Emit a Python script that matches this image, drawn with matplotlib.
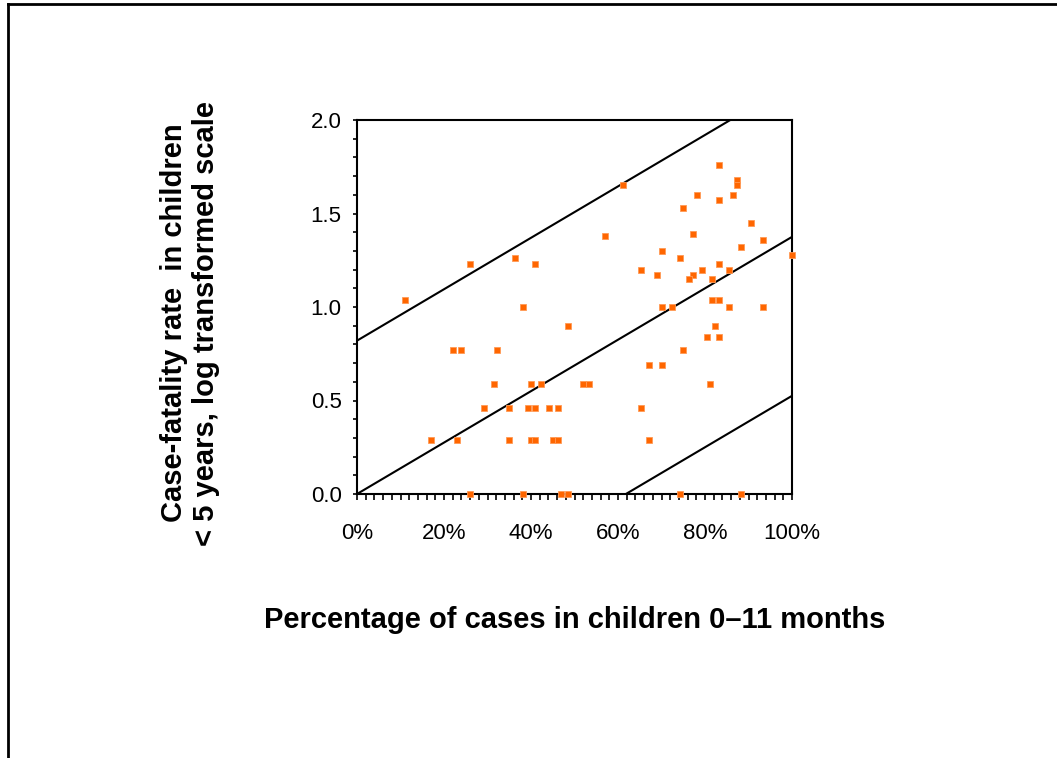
import matplotlib
matplotlib.use("Agg")
import matplotlib.pyplot as plt
from matplotlib.lines import Line2D
from matplotlib.ticker import MultipleLocator, FuncFormatter
import numpy as np

plt.rcParams['font.family'] = ['Liberation Sans', 'DejaVu Sans']

# percentage of cases in children 0-11 months
pct_infants = [11.0, 26.0, 36.3, 40.9, 38.1,
               83.3, 87.4, 87.4, 61.2, 78.2, 86.5, 83.3, 75.0, 90.6, 57.1,
               77.3, 93.4, 88.3, 70.0, 100.0, 74.3, 83.3, 65.4, 85.6, 69.0,
               77.3, 79.4, 76.4, 81.5, 81.5, 83.3, 70.0, 72.3, 85.6, 93.4,
               82.4, 80.5, 83.3, 75.0, 67.2, 70.0, 52.0, 53.4, 81.1, 65.4,
               67.2, 74.3, 88.3,
               48.4, 22.1, 24.0, 32.1, 31.4, 40.1, 42.4,
               29.1, 35.0, 39.2, 41.0, 44.2, 46.1,
               17.1, 23.1, 35.0, 40.1, 41.0, 45.1, 46.1,
               26.0, 38.1, 47.0, 48.4]
# case-fatality rate (log transformed)
cfr_log = [1.04, 1.23, 1.26, 1.23, 1.00,
           1.76, 1.68, 1.65, 1.65, 1.60, 1.60, 1.57, 1.53, 1.45, 1.38,
           1.39, 1.36, 1.32, 1.30, 1.28, 1.26, 1.23, 1.20, 1.20, 1.17,
           1.17, 1.20, 1.15, 1.15, 1.04, 1.04, 1.00, 1.00, 1.00, 1.00,
           0.90, 0.84, 0.84, 0.77, 0.69, 0.69, 0.59, 0.59, 0.59, 0.46,
           0.29, 0.00, 0.00,
           0.90, 0.77, 0.77, 0.77, 0.59, 0.59, 0.59,
           0.46, 0.46, 0.46, 0.46, 0.46, 0.46,
           0.29, 0.29, 0.29, 0.29, 0.29, 0.29, 0.29,
           0.00, 0.00, 0.00, 0.00]

# regression line and bands: intercepts and common slope (per 100%)
slope = 1.375
intercepts = [0.0, 0.82, -0.85]

fig = plt.figure(figsize=(10.57, 7.58), dpi=100)
ax = fig.add_axes([357/1057, 1-494/758, 435/1057, 374/758])

xx = np.linspace(0, 100, 200)
for b in intercepts:
    ax.plot(xx, b + slope * xx / 100, color='black', lw=1.5, zorder=2)

ax.plot(np.array(pct_infants), cfr_log, linestyle='none', marker='s', ms=4.5,
        color='#ff6600', mec='#ff9a55', mew=0.6, clip_on=False, zorder=3)

ax.set_xlim(0, 100)
ax.set_ylim(0, 2.0)
ax.xaxis.set_major_locator(MultipleLocator(20))
ax.xaxis.set_minor_locator(MultipleLocator(2))
ax.yaxis.set_major_locator(MultipleLocator(0.5))
ax.yaxis.set_minor_locator(MultipleLocator(0.1))
ax.xaxis.set_major_formatter(FuncFormatter(lambda v, p: '%d%%' % v))
ax.yaxis.set_major_formatter(FuncFormatter(lambda v, p: '%.1f' % v))
ax.tick_params(which='both', direction='out', width=1.2, labelsize=16)
ax.tick_params(axis='x', which='both', length=4, pad=17)
ax.tick_params(axis='y', which='both', length=3, pad=8)
for s in ax.spines.values():
    s.set_linewidth(1.5)

fig.text(575/1057, 1-620/758, 'Percentage of cases in children 0\u201311 months',
         ha='center', va='center', fontsize=21, fontweight='bold')
fig.text(190/1057, 1-323/758,
         'Case-fatality rate  in children\n< 5 years, log transformed scale',
         ha='center', va='center', rotation=90, fontsize=21,
         fontweight='bold', multialignment='center', linespacing=1.2)

# frame lines at the top and left of the slide
fig.add_artist(Line2D([8/1057, 1], [1-4/758, 1-4/758], color='black', lw=2,
                      transform=fig.transFigure))
fig.add_artist(Line2D([8/1057, 8/1057], [0, 1-4/758], color='black', lw=2,
                      transform=fig.transFigure))

fig.savefig('out.png', dpi=100)
